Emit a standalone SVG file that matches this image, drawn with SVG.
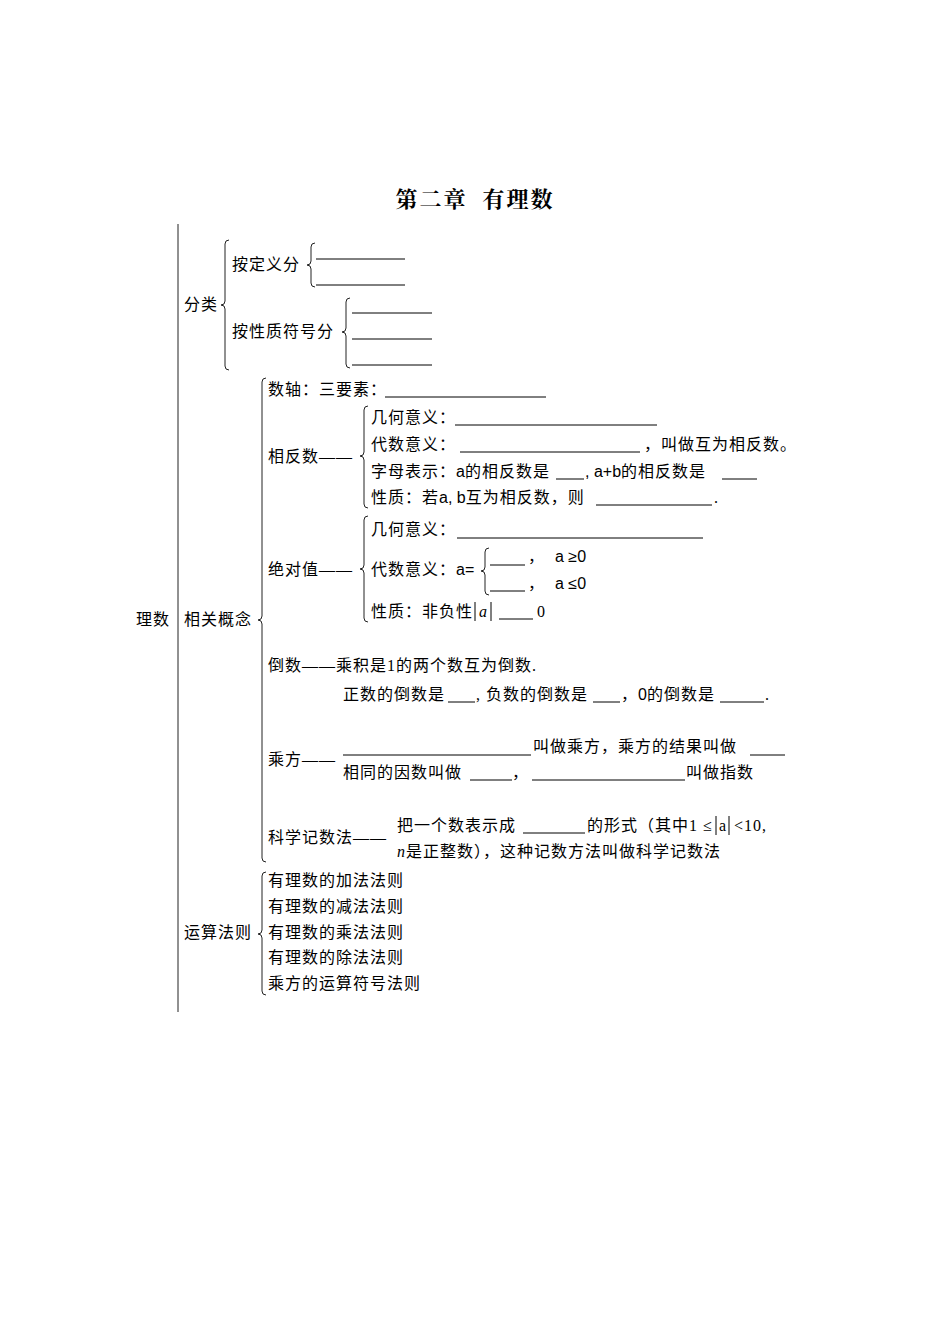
<svg xmlns="http://www.w3.org/2000/svg" width="950" height="1344" viewBox="0 0 950 1344">
<style>
text{font-family:"Liberation Serif","Noto Sans CJK SC",serif;font-size:16px;fill:#000;letter-spacing:1px}
.t{font-family:"Liberation Serif","Noto Serif CJK SC","Noto Sans CJK SC",serif;font-size:22px;font-weight:bold;letter-spacing:2px}
.s{font-family:"Liberation Sans","Noto Sans CJK SC",sans-serif;letter-spacing:0}
.b{fill:none;stroke:#222;stroke-width:1}
.u{stroke:#000;stroke-width:1}
.i{font-style:italic}
</style>
<rect width="950" height="1344" fill="#fff"/>
<text class="t" x="475" y="207" text-anchor="middle" xml:space="preserve">第二章  有理数</text>
<g id="connectors">
<line class="b" x1="178" y1="224" x2="178" y2="1012"/>
<path class="b" d="M229,240 q-4,0 -4,4 V301 q0,4 -4,4 q4,0 4,4 V366 q0,4 4,4"/>
<path class="b" d="M315,243 q-4,0 -4,4 V261 q0,4 -4,4 q4,0 4,4 V283 q0,4 4,4"/>
<path class="b" d="M350,298 q-4,0 -4,4 V328 q0,4 -4,4 q4,0 4,4 V364 q0,4 4,4"/>
<path class="b" d="M266,378 q-4,0 -4,4 V616 q0,4 -4,4 q4,0 4,4 V858 q0,4 4,4"/>
<path class="b" d="M368,406 q-4,0 -4,4 V452 q0,4 -4,4 q4,0 4,4 V504 q0,4 4,4"/>
<path class="b" d="M368,516 q-4,0 -4,4 V565 q0,4 -4,4 q4,0 4,4 V618 q0,4 4,4"/>
<path class="b" d="M489,548 q-4,0 -4,4 V567 q0,4 -4,4 q4,0 4,4 V591 q0,4 4,4"/>
<path class="b" d="M266,872 q-4,0 -4,4 V930 q0,4 -4,4 q4,0 4,4 V991 q0,4 4,4"/>
</g>
<g id="root"><text x="136" y="625">理数</text></g>
<g id="fenlei">
<text x="184" y="310">分类</text>
<text x="232" y="270">按定义分</text>
<line class="u" x1="316" y1="259" x2="405" y2="259"/><line class="u" x1="316" y1="285" x2="405" y2="285"/>
<text x="232" y="337">按性质符号分</text>
<line class="u" x1="352" y1="313" x2="432" y2="313"/><line class="u" x1="352" y1="339" x2="432" y2="339"/><line class="u" x1="352" y1="365" x2="432" y2="365"/>
</g>
<g id="gainian">
<text x="184" y="625">相关概念</text>
<text x="268" y="395">数轴：三要素：</text><line class="u" x1="385" y1="397" x2="546" y2="397"/>
</g>
<g id="xiangfanshu">
<text x="268" y="462">相反数——</text>
<text x="371" y="423">几何意义：</text><line class="u" x1="455" y1="425" x2="657" y2="425"/>
<text x="371" y="450">代数意义：</text><line class="u" x1="460" y1="452" x2="640" y2="452"/><text x="644" y="450">，叫做互为相反数。</text>
<text x="371" y="477">字母表示：<tspan class="s">a</tspan>的相反数是</text><line class="u" x1="556" y1="479" x2="584" y2="479"/>
<text x="585" y="477"><tspan class="s">, a+b</tspan>的相反数是</text><line class="u" x1="722" y1="479" x2="757" y2="479"/>
<text x="371" y="503">性质：若<tspan class="s">a, b</tspan>互为相反数，则</text><line class="u" x1="596" y1="505" x2="712" y2="505"/><text x="714" y="503">.</text>
</g>
<g id="jueduizhi">
<text x="268" y="575">绝对值——</text>
<text x="371" y="535">几何意义：</text><line class="u" x1="457" y1="538" x2="703" y2="538"/>
<text x="371" y="575">代数意义：<tspan class="s">a=</tspan></text>
<line class="u" x1="490" y1="565" x2="525" y2="565"/><text x="528" y="562" xml:space="preserve">，  <tspan class="s">a ≥0</tspan></text>
<line class="u" x1="490" y1="591" x2="525" y2="591"/><text x="528" y="589" xml:space="preserve">，  <tspan class="s">a ≤0</tspan></text>
<text x="371" y="617">性质：非负性</text><line class="u" x1="475" y1="602" x2="475" y2="621"/><text x="479" y="617" class="i">a</text><line class="u" x1="491" y1="602" x2="491" y2="621"/>
<line class="u" x1="499" y1="619" x2="533" y2="619"/><text x="537" y="617">0</text>
</g>
<g id="daoshu">
<text x="268" y="671">倒数——乘积是1的两个数互为倒数.</text>
<text x="343" y="700">正数的倒数是</text><line class="u" x1="448" y1="702" x2="475" y2="702"/><text x="476" y="700">, 负数的倒数是</text><line class="u" x1="593" y1="702" x2="620" y2="702"/><text x="621" y="700">，<tspan class="s">0</tspan>的倒数是</text><line class="u" x1="720" y1="702" x2="764" y2="702"/><text x="765" y="700">.</text>
</g>
<g id="chengfang">
<text x="268" y="765">乘方——</text>
<line class="u" x1="343" y1="755" x2="531" y2="755"/><text x="533" y="752">叫做乘方，乘方的结果叫做</text><line class="u" x1="750" y1="755" x2="785" y2="755"/>
<text x="343" y="778">相同的因数叫做</text><line class="u" x1="470" y1="780" x2="512" y2="780"/><text x="512" y="778">，</text><line class="u" x1="532" y1="780" x2="685" y2="780"/><text x="686" y="778">叫做指数</text>
</g>
<g id="kexue">
<text x="268" y="843">科学记数法——</text>
<text x="397" y="831">把一个数表示成</text><line class="u" x1="523" y1="833" x2="585" y2="833"/><text x="587" y="831">的形式（其中1 ≤</text><line class="u" x1="716" y1="816" x2="716" y2="835"/><text x="719" y="831">a</text><line class="u" x1="729" y1="816" x2="729" y2="835"/><text x="734" y="831">&lt;10,</text>
<text x="397" y="857"><tspan class="i">n</tspan>是正整数），这种记数方法叫做科学记数法</text>
</g>
<g id="yunsuan">
<text x="184" y="938">运算法则</text>
<text x="268" y="886">有理数的加法法则</text>
<text x="268" y="912">有理数的减法法则</text>
<text x="268" y="938">有理数的乘法法则</text>
<text x="268" y="963">有理数的除法法则</text>
<text x="268" y="989">乘方的运算符号法则</text>
</g>
</svg>
